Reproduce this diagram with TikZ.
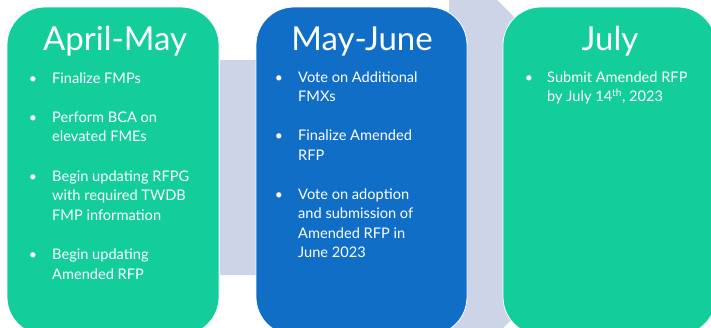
\documentclass[tikz,border=0pt]{standalone}
\usepackage{fontspec}
\setmainfont{Lato}
\definecolor{grn}{HTML}{13CE9B}
\definecolor{blu}{HTML}{106EC6}
\definecolor{lav}{HTML}{CDD4E8}
\newcommand\mlines[1]{\begin{tabular}[t]{@{}l@{}}#1\end{tabular}}
\tikzset{
  card/.style={fill=#1, draw=white, line width=0.8pt, rounded corners=38pt},
  ttl/.style={anchor=base, text=white, font=\fontsize{33}{39}\selectfont, inner sep=0pt},
  itxt/.style={anchor=base west, text=white, font=\fontsize{14.6}{19.5}\selectfont, inner sep=0pt},
  bul/.style={anchor=base, text=white, font=\fontsize{14}{19.5}\selectfont, inner sep=0pt}
}
\begin{document}
\begin{tikzpicture}[x=1pt,y=-1pt]
\useasboundingbox (0,0) rectangle (711,327);
% background arrow
\fill[lav] (220,60) -- (449,60) -- (449,-48) -- (664,167) -- (449,382) -- (449,275) -- (220,275) -- cycle;
% cards
\draw[card=grn] (7,7) rectangle (219,335);
\draw[card=blu] (256,7) rectangle (467,335);
\draw[card=grn] (503,7) rectangle (716,335);
% titles
\node[ttl] (t1) at (115,50) {April-May};
\node[ttl] (t2) at (362,50) {May-June};
\node[ttl] (t3) at (610,50) {July};
% April-May items
\node[bul] (b1a) at (33,83) {•};
\node[itxt] (i1a) at (52,83) {Finalize FMPs};
\node[bul] (b1b) at (33,122) {•};
\node[itxt] (i1b) at (52,122) {\mlines{Perform BCA on\\elevated FMEs}};
\node[bul] (b1c) at (33,181) {•};
\node[itxt] (i1c) at (52,181) {\mlines{Begin updating RFPG\\with required TWDB\\FMP information}};
\node[bul] (b1d) at (33,259.5) {•};
\node[itxt] (i1d) at (52,259.5) {\mlines{Begin updating\\Amended RFP}};
% May-June items
\node[bul] (b2a) at (279,82) {•};
\node[itxt] (i2a) at (298,82) {\mlines{Vote on Additional\\FMXs}};
\node[bul] (b2b) at (279,140.5) {•};
\node[itxt] (i2b) at (298,140.5) {\mlines{Finalize Amended\\RFP}};
\node[bul] (b2c) at (279,199) {•};
\node[itxt] (i2c) at (298,199) {\mlines{Vote on adoption\\and submission of\\Amended RFP in\\June 2023}};
% July items
\node[bul] (b3a) at (529,82) {•};
\node[itxt] (i3a) at (547,82) {\mlines{Submit Amended RFP\\by July 14\textsuperscript{th}, 2023}};
\end{tikzpicture}
\end{document}
